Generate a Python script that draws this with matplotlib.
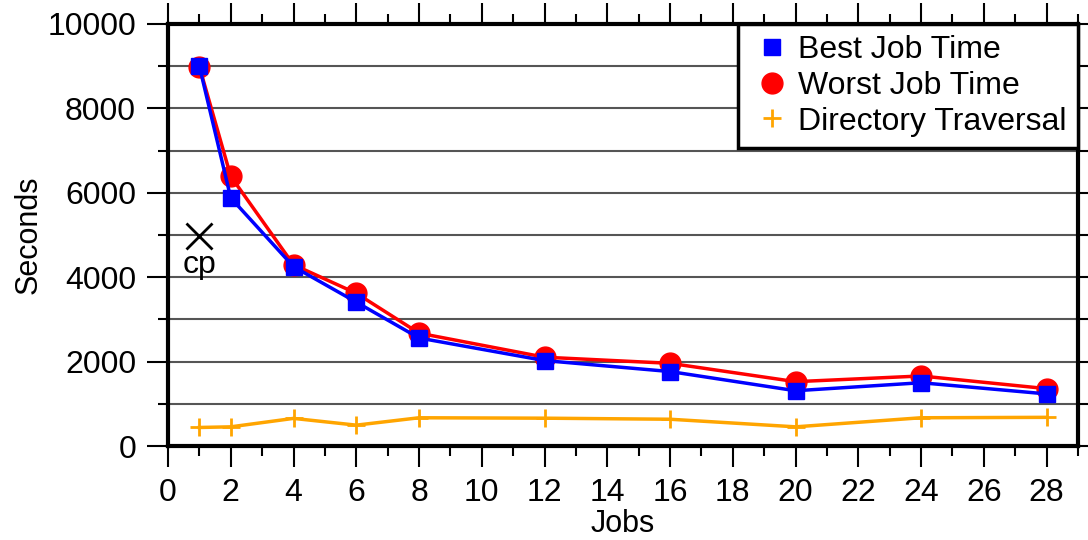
import matplotlib
matplotlib.use('Agg')
import matplotlib.pyplot as plt
from matplotlib.ticker import MultipleLocator

plt.rcParams['font.family'] = ['Liberation Sans', 'DejaVu Sans']

# 데이터
jobs = [1, 2, 4, 6, 8, 12, 16, 20, 24, 28]
best_time = [9000, 5880, 4250, 3410, 2560, 2025, 1765, 1310, 1500, 1235]
worst_time = [8990, 6390, 4295, 3620, 2675, 2105, 1960, 1525, 1660, 1360]
dir_traversal = [440, 455, 655, 495, 670, 660, 635, 455, 670, 680]
cp_jobs = [1]
cp_time = [4970]

fig = plt.figure(figsize=(10.88, 5.4), dpi=100)
ax = fig.add_axes([0.1544, 0.174, 0.8364, 0.7816])

ax.plot(jobs, dir_traversal, color='orange', lw=2.5, marker='+', ms=13, mew=2,
        label='Directory Traversal', zorder=3)
ax.plot(jobs, worst_time, color='red', lw=2.5, marker='o', ms=15,
        label='Worst Job Time', zorder=4)
ax.plot(jobs, best_time, color='blue', lw=2.5, marker='s', ms=11.5,
        label='Best Job Time', zorder=5)
ax.plot(cp_jobs, cp_time, linestyle='none', marker='x', color='black', ms=19, mew=2, zorder=5)
ax.text(cp_jobs[0], 4100, 'cp', ha='center', va='baseline', fontsize=23)

ax.set_xlim(0, 29)
ax.set_ylim(0, 10000)
ax.xaxis.set_major_locator(MultipleLocator(2))
ax.xaxis.set_minor_locator(MultipleLocator(1))
ax.yaxis.set_major_locator(MultipleLocator(2000))
ax.yaxis.set_minor_locator(MultipleLocator(1000))
ax.set_xticks(range(0, 29, 2))

ax.tick_params(which='both', direction='out', top=True, right=True,
               labelsize=23, width=1.5, color='black')
ax.tick_params(which='major', length=15, pad=8)
ax.tick_params(which='minor', length=7)
for s in ax.spines.values():
    s.set_linewidth(3)

ax.grid(axis='y', which='both', color='#555555', lw=1.5)
ax.set_axisbelow(True)

ax.set_xlabel('Jobs', fontsize=22, labelpad=1)
ax.set_ylabel('Seconds', fontsize=22, labelpad=3)

handles, labels = ax.get_legend_handles_labels()
order = [2, 1, 0]
leg = ax.legend([handles[i] for i in order], [labels[i] for i in order],
                loc='upper right', fontsize=23, fancybox=False, framealpha=1,
                edgecolor='black', handlelength=1.45, handletextpad=0.1,
                borderpad=0.35, labelspacing=0.18, borderaxespad=0)
leg.get_frame().set_linewidth(2.5)
for h in leg.legend_handles:
    h.set_linestyle('none')

fig.savefig('out.png', dpi=100)
